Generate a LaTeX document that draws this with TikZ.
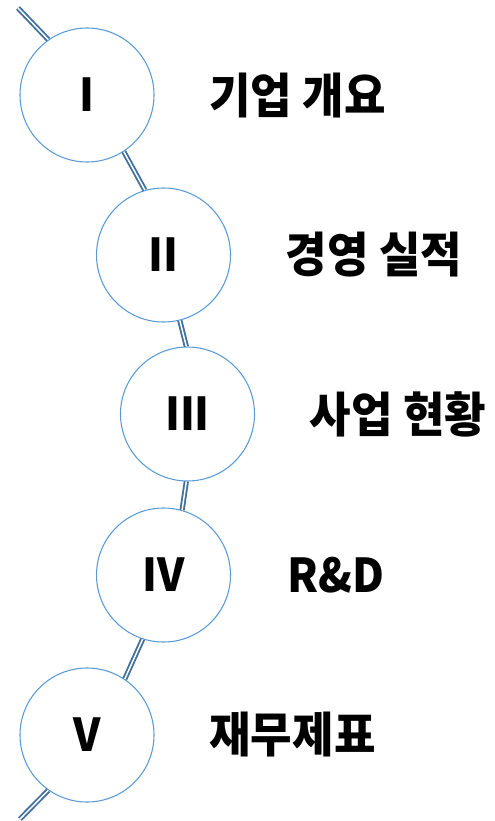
\documentclass[tikz,border=0pt]{standalone}
\usepackage{fontspec}
\usepackage{tikz}
\usepackage{xcolor}
\usetikzlibrary{positioning}
\newfontfamily\korfont{Noto Sans CJK KR}[FakeStretch=0.94]
\definecolor{ringblue}{HTML}{5B9BD5}
\definecolor{linkblue}{HTML}{41719C}

\tikzset{
  stage/.style={circle, draw=ringblue, line width=0.8pt, fill=white,
    minimum size=100.5pt, inner sep=0pt, font=\korfont\bfseries\fontsize{34}{34}\selectfont},
  title/.style={inner sep=0pt, anchor=west, font=\korfont\bfseries\fontsize{36}{36}\selectfont},
  link/.style={draw=linkblue, line width=1.4pt, double=white, double distance=1.1pt}
}

\begin{document}
\begin{tikzpicture}[x=0.75pt, y=-0.75pt]
\useasboundingbox (0,0) rectangle (494,821);

\node[stage] (s1) at (87,95)     {I};
\node[stage] (s2) at (163.5,255) {II};
\node[stage] (s3) at (187.5,414) {III};
\node[stage] (s4) at (163.5,575) {IV};
\node[stage] (s5) at (87,735)    {V};

\coordinate (top) at (18,8);
\coordinate (bot) at (20,819);

\draw[link] (top) -- (s1.125);
\draw[link] (s1.-57) -- (s2.106);
\draw[link] (s2.-76) -- (s3.91);
\draw[link] (s3.-91) -- (s4.74);
\draw[link] (s4.-108) -- (s5.56);
\draw[link] (s5.235) -- (bot);

\node[title, right=41pt of s1] (t1) {기업 개요};
\node[title, right=41pt of s2] (t2) {경영 실적};
\node[title, right=41pt of s3] (t3) {사업 현황};
\node[title, right=42pt of s4, font=\korfont\bfseries\fontsize{35}{35}\selectfont] (t4) {R\&D};
\node[title, right=41pt of s5] (t5) {재무제표};
\end{tikzpicture}
\end{document}
